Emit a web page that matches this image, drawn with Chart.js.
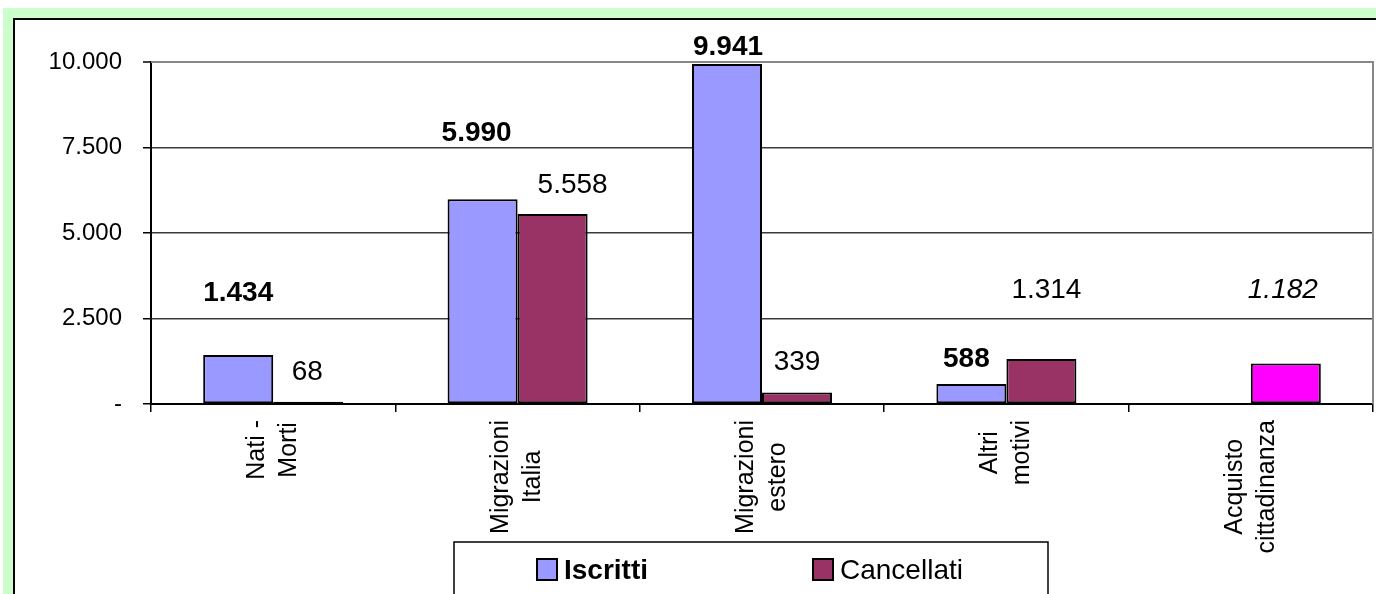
<!DOCTYPE html>
<html lang="it">
<head>
<meta charset="UTF-8">
<title>Iscritti e cancellati per motivo</title>
<script src="https://cdn.jsdelivr.net/npm/chart.js"></script>
<style>
  html, body { margin: 0; padding: 0; background: #fff; overflow: hidden; }
  #fondo { position: absolute; left: 3px; top: 8px; width: 1400px; height: 620px; background: #ccffcc; }
  #cornice { position: absolute; left: 13px; top: 18px; width: 1400px; height: 620px; background: #fff;
             border: 2px solid #000; box-sizing: border-box; }
  #grafico { position: absolute; left: 0; top: 0; }
</style>
</head>
<body>
<div id="fondo"></div>
<div id="cornice"></div>
<canvas id="grafico" width="1376" height="594"></canvas>
<script>
// dati
const categorie = [['Nati -', 'Morti'], ['Migrazioni', 'Italia'], ['Migrazioni', 'estero'], ['Altri', 'motivi'], ['Acquisto', 'cittadinanza']];
const iscritti = [1434, 5990, 9941, 588, null];
const cancellati = [68, 5558, 339, 1314, 1182];
const tickY = [0, 2500, 5000, 7500, 10000];

// colori delle barre (l'ultima dei cancellati è l'acquisto di cittadinanza)
const coloreIscritti = '#9999ff';
const coloriCancellati = ['#993366', '#993366', '#993366', '#993366', '#ff00ff'];

// spostamento delle etichette rispetto alla cima della barra [dx, dy]
const spostaIscritti = [[0, -54], [-6, -58], [1, -9], [-5, -17], [0, 0]];
const spostaCancellati = [[-1, -22], [20, -21], [0, -22], [5, -61], [-3, -66]];

const FONT = "'Liberation Sans', Arial, sans-serif";
const formatta = v => String(v).replace(/\B(?=(\d{3})+(?!\d))/g, '.');

Chart.defaults.font.family = FONT;
Chart.defaults.color = '#000';

// bordo grigio dell'area del grafico (sopra e a destra)
const bordoArea = {
  id: 'bordoArea',
  beforeDatasetsDraw(chart) {
    const { ctx, chartArea: a } = chart;
    ctx.save();
    ctx.strokeStyle = '#888';
    ctx.lineWidth = 2;
    ctx.beginPath();
    ctx.moveTo(a.left, a.top);
    ctx.lineTo(a.right, a.top);
    ctx.lineTo(a.right, a.bottom);
    ctx.stroke();
    ctx.restore();
  }
};

// valori sopra le barre
const etichetteValori = {
  id: 'etichetteValori',
  afterDatasetsDraw(chart) {
    const ctx = chart.ctx;
    ctx.save();
    ctx.textAlign = 'center';
    ctx.textBaseline = 'alphabetic';
    ctx.fillStyle = '#000';
    chart.data.datasets.forEach((ds, d) => {
      const sposta = d === 0 ? spostaIscritti : spostaCancellati;
      chart.getDatasetMeta(d).data.forEach((bar, i) => {
        const v = ds.data[i];
        if (v == null) return;
        let stile = d === 0 ? 'bold ' : '';
        if (d === 1 && i === 4) stile = 'italic ';
        ctx.font = stile + '28px ' + FONT;
        ctx.fillText(formatta(v), bar.x + sposta[i][0], bar.y + sposta[i][1]);
      });
    });
    ctx.restore();
  }
};

// etichette delle categorie, ruotate e centrate riga per riga
const etichetteCategorie = {
  id: 'etichetteCategorie',
  afterDraw(chart) {
    const { ctx, scales: { x } } = chart;
    const interlinea = 32;
    ctx.save();
    ctx.font = '25px ' + FONT;
    ctx.fillStyle = '#000';
    ctx.textAlign = 'center';
    ctx.textBaseline = 'middle';
    chart.data.labels.forEach((righe, i) => {
      const larghezza = Math.max(...righe.map(r => ctx.measureText(r).width));
      const cx = x.getPixelForValue(i);
      const cy = x.top + 16 + larghezza / 2;
      righe.forEach((r, j) => {
        ctx.save();
        ctx.translate(cx + (j - (righe.length - 1) / 2) * interlinea, cy);
        ctx.rotate(-Math.PI / 2);
        ctx.fillText(r, 0, 0);
        ctx.restore();
      });
    });
    ctx.restore();
  }
};

// legenda in un riquadro sotto l'asse
const legenda = {
  id: 'legenda',
  afterDraw(chart) {
    const ctx = chart.ctx;
    ctx.save();
    ctx.strokeStyle = '#000';
    ctx.lineWidth = 1.5;
    ctx.strokeRect(454, 542, 594, 100);
    const voci = [
      { testo: 'Iscritti', colore: coloreIscritti, x: 537, font: 'bold 28px ' },
      { testo: 'Cancellati', colore: coloriCancellati[0], x: 813, font: '28px ' }
    ];
    voci.forEach(v => {
      ctx.fillStyle = v.colore;
      ctx.fillRect(v.x, 559, 20, 21);
      ctx.lineWidth = 2;
      ctx.strokeRect(v.x, 559, 20, 21);
      ctx.fillStyle = '#000';
      ctx.font = v.font + FONT;
      ctx.textBaseline = 'alphabetic';
      ctx.fillText(v.testo, v.x + 27, 579);
    });
    ctx.restore();
  }
};

new Chart(document.getElementById('grafico'), {
  type: 'bar',
  data: {
    labels: categorie,
    datasets: [
      {
        label: 'Iscritti',
        data: iscritti,
        backgroundColor: coloreIscritti,
        borderColor: '#000',
        borderWidth: 2,
        borderSkipped: false
      },
      {
        label: 'Cancellati',
        data: cancellati,
        backgroundColor: coloriCancellati,
        borderColor: '#000',
        borderWidth: 2,
        borderSkipped: false
      }
    ]
  },
  options: {
    responsive: false,
    animation: false,
    categoryPercentage: 0.573,
    barPercentage: 1,
    layout: { padding: { left: 0, top: 62, right: 3, bottom: 0 } },
    plugins: {
      legend: { display: false },
      tooltip: { enabled: false }
    },
    scales: {
      x: {
        ticks: { display: false },
        grid: { offset: true, drawOnChartArea: false, drawTicks: true, tickLength: 8, color: '#000', lineWidth: 1.5 },
        border: { color: '#000', width: 2 },
        afterFit: s => { s.height = 190; }
      },
      y: {
        min: 0,
        max: 10000,
        afterBuildTicks: s => { s.ticks = tickY.map(v => ({ value: v })); },
        ticks: {
          padding: 21,
          font: { size: 24 },
          callback: v => v === 0 ? '-' : formatta(v)
        },
        grid: {
          color: c => c.tick && c.tick.value === 10000 ? '#888' : '#3a3a3a',
          lineWidth: c => c.tick && c.tick.value === 10000 ? 2 : 1.5,
          tickColor: '#000',
          tickLength: 8,
          tickWidth: 1.5
        },
        border: { color: '#000', width: 2 },
        afterFit: s => { s.width = 151; }
      }
    }
  },
  plugins: [bordoArea, etichetteValori, etichetteCategorie, legenda]
});
</script>
</body>
</html>
